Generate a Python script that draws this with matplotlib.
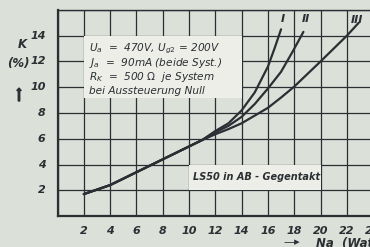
import matplotlib.pyplot as plt
from matplotlib.patches import Rectangle

# Klirrfaktor K (%) ueber Ausgangsleistung Na (Watt), LS50 AB-Gegentakt
x_gemeinsam = [2, 4, 6, 8, 10, 11]
k_gemeinsam = [1.7, 2.4, 3.4, 4.4, 5.4, 5.9]

x_I = [12, 13, 14, 15, 16, 16.5, 17.0]
k_I = [6.6, 7.2, 8.2, 9.6, 11.6, 13.0, 14.5]

x_II = [12, 13, 14, 15, 16, 17, 17.9, 18.7]
k_II = [6.5, 7.0, 7.7, 8.7, 9.9, 11.2, 12.8, 14.3]

x_III = [12, 13, 14, 15, 16, 17, 18, 20, 22, 22.9]
k_III = [6.35, 6.75, 7.2, 7.8, 8.4, 9.2, 10.05, 12.0, 14.0, 15.0]

kurven = ["I", "II", "III"]
x_ticks = list(range(2, 25, 2))
y_ticks = list(range(2, 15, 2))

bg = "#dbe0d8"
ink = "#2b2e33"

fig = plt.figure(figsize=(3.7, 2.47), dpi=100, facecolor=bg)
ax = fig.add_axes([57.5 / 370, 31 / 247, 315.6 / 370, 206 / 247])
ax.set_facecolor(bg)
ax.set_xlim(0, 24)
ax.set_ylim(0, 16)

ax.set_xticks(range(0, 25, 2))
ax.set_yticks(range(0, 17, 2))
ax.grid(True, color=ink, linewidth=0.9, zorder=1)
ax.set_axisbelow(True)
ax.tick_params(length=0, labelbottom=False, labelleft=False)
for s in ["left", "bottom", "top"]:
    ax.spines[s].set_color(ink)
ax.spines["left"].set_linewidth(1.6)
ax.spines["bottom"].set_linewidth(1.6)
ax.spines["top"].set_linewidth(1.0)
ax.spines["right"].set_visible(False)

lab = dict(fontsize=8, fontstyle="italic", fontweight="bold", color=ink)
for t in x_ticks:
    ax.text(t, -0.75, str(t), ha="center", va="top", clip_on=False, **lab)
for t in y_ticks:
    ax.text(-0.9, t, str(t), ha="right", va="center", clip_on=False, **lab)

# Kaesten mit Beschriftung
box = "#eceee7"
ax.add_patch(Rectangle((2, 9.2), 12, 4.8, facecolor=box, edgecolor="none", zorder=2))
ax.add_patch(Rectangle((10, 2.05), 10, 1.9, facecolor=box, edgecolor="none", zorder=2))

zeilen = [r"$U_a$  =  470V, $U_{g2}$ = 200V",
          r"$J_a$  =  90mA (beide Syst.)",
          r"$R_K$  =  500 $\Omega$  je System",
          "bei Aussteuerung Null"]
for i, z in enumerate(zeilen):
    ax.text(2.4, 12.95 - i * 1.08, z, ha="left", va="center", zorder=3,
            fontsize=7.6, fontstyle="italic", color=ink)
ax.text(10.3, 3.0, "LS50 in AB - Gegentakt", ha="left", va="center", zorder=3,
        fontsize=7.0, fontstyle="italic", fontweight="bold", color=ink)

# Kurven
lw = 1.6
for xs, ks in [(x_I, k_I), (x_II, k_II), (x_III, k_III)]:
    ax.plot(x_gemeinsam + xs, k_gemeinsam + ks, color=ink, linewidth=lw,
            solid_capstyle="round", solid_joinstyle="round", zorder=4)

ax.text(17.1, 15.3, kurven[0], ha="center", va="center", zorder=4, **lab)
ax.text(18.9, 15.3, kurven[1], ha="center", va="center", zorder=4, **lab)
ax.text(22.8, 15.2, kurven[2], ha="center", va="center", zorder=4, **lab)

# Achsenbeschriftungen
fig.text(22 / 370, 1 - 44 / 247, "K", ha="center", va="center",
         fontsize=8.5, fontstyle="italic", fontweight="bold", color=ink)
fig.text(18 / 370, 1 - 63 / 247, "(%)", ha="center", va="center",
         fontsize=8.5, fontstyle="italic", fontweight="bold", color=ink)
fig.patches.append(plt.Arrow(19 / 370, 1 - 101 / 247, 0, 13 / 247, width=0.02,
                             transform=fig.transFigure, color=ink, figure=fig))
fig.text(283 / 370, 1 - 242 / 247, "\u2014\u25b8", ha="left", va="center",
         fontsize=8, color=ink)
fig.text(316 / 370, 1 - 243 / 247, "Na  (Watt)", ha="left", va="center",
         fontsize=8.5, fontstyle="italic", fontweight="bold", color=ink)

fig.savefig("out.png", dpi=100, facecolor=bg)
